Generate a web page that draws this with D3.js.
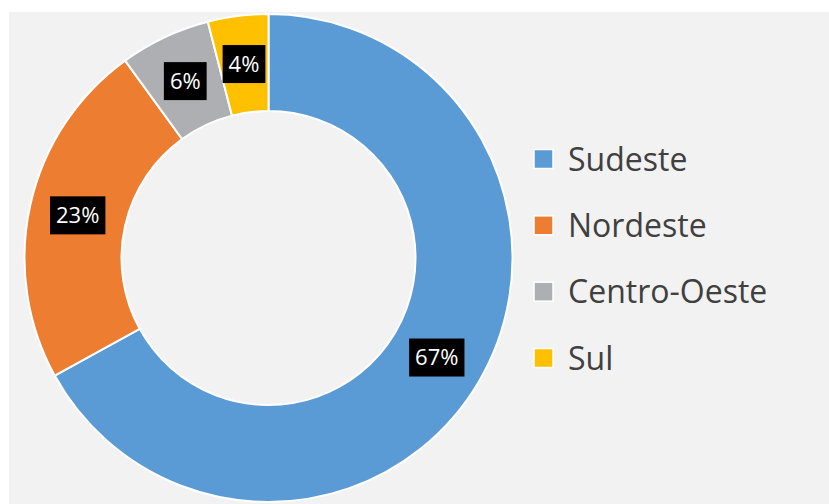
<!DOCTYPE html>
<html><head><meta charset="utf-8">
<script src="https://cdn.jsdelivr.net/npm/d3@7"></script>
<style>html,body{margin:0;padding:0;background:#fff;}svg{display:block;}</style>
</head><body>
<svg id="chart" width="829" height="504"></svg>
<script>
const categories = ["Sudeste", "Nordeste", "Centro-Oeste", "Sul"];
const values = [67, 23, 6, 4];
const labels = ["67%", "23%", "6%", "4%"];
const colors = ["#5B9BD5", "#ED7D31", "#AEAFB2", "#FFC000"];

const svg = d3.select("#chart");
svg.append("rect").attr("x", 9).attr("y", 12).attr("width", 820).attr("height", 492).attr("fill", "#F2F2F2");

const cx = 268.5, cy = 258, R = 244, r = 147;
const data = categories.map((c, i) => ({cat: c, value: values[i], label: labels[i], color: colors[i]}));
const pie = d3.pie().value(d => d.value).sort(null);
const arc = d3.arc().innerRadius(r).outerRadius(R);
const g = svg.append("g").attr("transform", `translate(${cx},${cy})`);
const arcs = pie(data);
g.selectAll("path").data(arcs).join("path")
  .attr("d", arc).attr("fill", d => d.data.color)
  .attr("stroke", "#fff").attr("stroke-width", 2);

const lab = g.selectAll("g.lab").data(arcs).join("g").attr("class", "lab")
  .attr("transform", d => `translate(${arc.centroid(d)})`);
lab.append("text")
  .attr("text-anchor", "middle").attr("dy", "0.36em")
  .attr("font-family", "'Open Sans', sans-serif").attr("font-size", 22)
  .attr("fill", "#fff").text(d => d.data.label)
  .each(function() {
    const b = this.getBBox();
    d3.select(this.parentNode).insert("rect", "text")
      .attr("x", -b.width / 2 - 6).attr("y", -19)
      .attr("width", b.width + 12).attr("height", 38).attr("fill", "#000");
  });

const legend = svg.append("g");
const ly = d3.scalePoint().domain(categories).range([159, 358]);
const li = legend.selectAll("g").data(data).join("g")
  .attr("transform", d => `translate(534,${ly(d.cat)})`);
li.append("rect").attr("x", 0).attr("y", -9.5).attr("width", 19).attr("height", 19)
  .attr("fill", d => d.color).attr("stroke", "#fff").attr("stroke-width", 1.5);
li.append("text").attr("x", 34).attr("dy", "0.36em")
  .attr("font-family", "'Open Sans', sans-serif").attr("font-size", 32)
  .attr("fill", "#404040").text(d => d.cat);
</script>
</body></html>
